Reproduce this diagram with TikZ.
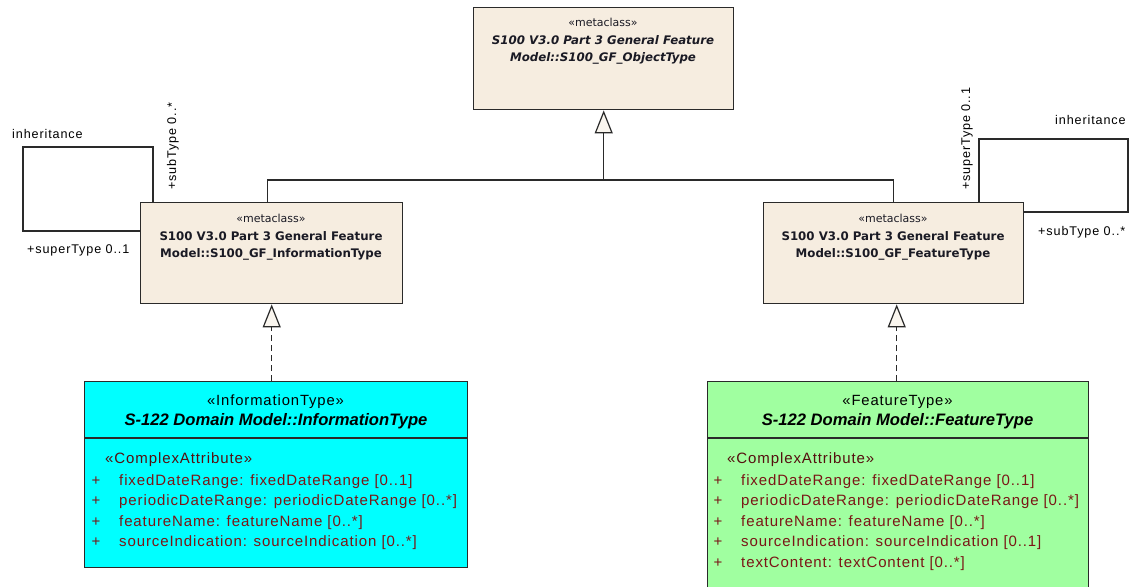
\documentclass[tikz,border=0pt]{standalone}
\usepackage{fontspec}
\setmainfont{Liberation Sans}
\newfontfamily\labfont[LetterSpace=7]{Liberation Sans}
\newfontfamily\attrfont[LetterSpace=6]{Liberation Sans}
\newfontfamily\tahfont{DejaVu Sans}
\usetikzlibrary{arrows.meta}
\definecolor{beige}{HTML}{F6EDE0}
\definecolor{cyanfill}{HTML}{00FFFF}
\definecolor{greenfill}{HTML}{A0FFA0}
\definecolor{attrred}{HTML}{7A1616}
\definecolor{linec}{HTML}{2A2A2A}
\definecolor{txtc}{HTML}{1A1A24}
\tikzset{
  boxst/.style={draw=linec, line width=1.4pt, inner sep=0pt, anchor=north west},
  conn/.style={draw=linec, line width=1.2pt},
  gen/.style={conn, -{Triangle[length=23pt,width=18pt,fill=beige!50!white]}},
  metast/.style={font=\tahfont\fontsize{11}{12}\selectfont, anchor=base, text=txtc, inner sep=0pt},
  metaname/.style={font=\tahfont\bfseries\fontsize{11.8}{14}\selectfont, anchor=base, text=txtc, inner sep=0pt},
  metanamei/.style={font=\tahfont\bfseries\itshape\fontsize{11.8}{14}\selectfont, anchor=base, text=txtc, inner sep=0pt},
  lab/.style={font=\labfont\fontsize{12.6}{14}\selectfont, text=black, inner sep=0pt},
  cst/.style={font=\attrfont\fontsize{14.8}{16}\selectfont, anchor=base, text=black, inner sep=0pt},
  cname/.style={font=\bfseries\itshape\fontsize{16.6}{18}\selectfont, anchor=base, text=black, inner sep=0pt},
  attr/.style={font=\attrfont\fontsize{15}{16}\selectfont, anchor=base west, text=attrred, inner sep=0pt},
  plus/.style={font=\fontsize{15}{16}\selectfont, anchor=base, text=attrred, inner sep=0pt}
}
\begin{document}
\begin{tikzpicture}[x=1pt,y=-1pt]
\useasboundingbox (0,0) rectangle (1137,586);

% boxes
\node[boxst, fill=beige, minimum width=260pt, minimum height=102pt] (T) at (473,7) {};
\node[boxst, fill=beige, minimum width=262pt, minimum height=101pt] (L) at (140,202) {};
\node[boxst, fill=beige, minimum width=260pt, minimum height=101pt] (R) at (763,202) {};
\node[boxst, fill=cyanfill, minimum width=383pt, minimum height=186pt] (C) at (84,381) {};
\node[boxst, fill=greenfill, minimum width=381pt, minimum height=210pt] (G) at (707,381) {};
\draw[linec, line width=1.4pt] (C.west |- 0,438) -- (C.east |- 0,438);
\draw[linec, line width=1.4pt] (G.west |- 0,438) -- (G.east |- 0,438);

% top box text
\node[metast] (t1) at (603,27) {«metaclass»};
\node[metanamei] (t2) at (603,45) {S100 V3.0 Part 3 General Feature};
\node[metanamei] (t3) at (603,62) {Model::S100\_GF\_ObjectType};

% left box text
\node[metast] (l1) at (271,222) {«metaclass»};
\node[metaname] (l2) at (271,240) {S100 V3.0 Part 3 General Feature};
\node[metaname] (l3) at (271,257) {Model::S100\_GF\_InformationType};

% right box text
\node[metast] (r1) at (893,222) {«metaclass»};
\node[metaname] (r2) at (893,240) {S100 V3.0 Part 3 General Feature};
\node[metaname] (r3) at (893,257) {Model::S100\_GF\_FeatureType};

% cyan box text
\node[cst] (c1) at (275.5,405) {«InformationType»};
\node[cname] (c2) at (276,425) {S-122 Domain Model::InformationType};
\node[attr, text=attrred!70!black] (c3) at (105,463) {«ComplexAttribute»};
\node[plus] (cp1) at (96,485) {+};
\node[attr] (ca1) at (119,485) {fixedDateRange: fixedDateRange [0..1]};
\node[plus] (cp2) at (96,505.5) {+};
\node[attr] (ca2) at (119,505.5) {periodicDateRange: periodicDateRange [0..*]};
\node[plus] (cp3) at (96,526) {+};
\node[attr] (ca3) at (119,526) {featureName: featureName [0..*]};
\node[plus] (cp4) at (96,546.5) {+};
\node[attr] (ca4) at (119,546.5) {sourceIndication: sourceIndication [0..*]};

% green box text
\node[cst] (g1) at (897.5,405) {«FeatureType»};
\node[cname] (g2) at (897.5,425) {S-122 Domain Model::FeatureType};
\node[attr, text=attrred!70!black] (g3) at (727,463) {«ComplexAttribute»};
\node[plus] (gp1) at (718,485) {+};
\node[attr] (ga1) at (741,485) {fixedDateRange: fixedDateRange [0..1]};
\node[plus] (gp2) at (718,505.5) {+};
\node[attr] (ga2) at (741,505.5) {periodicDateRange: periodicDateRange [0..*]};
\node[plus] (gp3) at (718,526) {+};
\node[attr] (ga3) at (741,526) {featureName: featureName [0..*]};
\node[plus] (gp4) at (718,546.5) {+};
\node[attr] (ga4) at (741,546.5) {sourceIndication: sourceIndication [0..1]};
\node[plus] (gp5) at (718,567) {+};
\node[attr] (ga5) at (741,567) {textContent: textContent [0..*]};

% generalizations to top
\coordinate (J) at (T.south |- 0,180);
\draw[gen] (J) -- (T.south);
\draw[conn] ([xshift=-4pt]L.north) |- (J);
\draw[conn] (R.north) |- (J);

% realizations
\draw[gen, dash pattern=on 6pt off 4pt] (L.south |- C.north) -- (L.south);
\draw[gen, dash pattern=on 6pt off 4pt] ([xshift=3pt]R.south |- G.north) -- ([xshift=3pt]R.south);

% self loops
\coordinate (la) at (153,147);
\coordinate (lb) at (23,231);
\draw[conn] (L.north -| la) -- (la) -| (lb) -- (L.west |- lb);
\coordinate (ra) at (979,139);
\coordinate (rb) at (1128,212);
\draw[conn] (R.north -| ra) -- (ra) -| (rb) -- (R.east |- rb);

% labels
\node[lab, anchor=base west] (li) at (12,138) {inheritance};
\node[lab, anchor=base west, rotate=90] (ls) at (176,190) {+subType 0..*};
\node[lab, anchor=base west] (lsp) at (27,253) {+superType 0..1};
\node[lab, anchor=base west] (ri) at (1055,124) {inheritance};
\node[lab, anchor=base west, rotate=90] (rs) at (970,190) {+superType 0..1};
\node[lab, anchor=base west] (rsb) at (1038,235) {+subType 0..*};
\end{tikzpicture}
\end{document}
